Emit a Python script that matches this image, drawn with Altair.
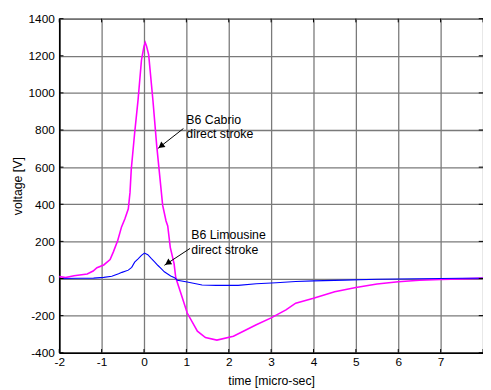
import altair as alt
import pandas as pd

# ---- data ----
cabrio_t = [-2.0, -1.85, -1.65, -1.34, -1.2, -1.11, -0.95, -0.80, -0.72, -0.62, -0.53, -0.45, -0.37, -0.33,
            -0.30, -0.22, -0.14, -0.06, 0.0, 0.03, 0.06, 0.11, 0.21, 0.30, 0.44, 0.52, 0.56, 0.62, 0.71, 0.75,
            0.87, 1.02, 1.26, 1.45, 1.72, 2.11, 2.65, 3.0, 3.35, 3.58, 4.0, 4.5, 5.0, 5.5, 6.0, 6.5, 7.0, 7.5, 8.0]
cabrio_v = [10, 5, 15, 24, 40, 58, 73, 102, 145, 205, 278, 322, 376, 464,
            590, 785, 962, 1176, 1251, 1271, 1252, 1206, 962, 716, 395, 310, 283, 168, 80, 4,
            -80, -186, -284, -318, -332, -311, -249, -212, -169, -133, -106, -71, -48, -30, -18, -9, -5, -2, 2]

limo_t = [-2.0, -1.5, -1.19, -0.95, -0.76, -0.6, -0.52, -0.37, -0.29, -0.22, -0.14, -0.06, 0.01, 0.09, 0.17,
          0.25, 0.33, 0.40, 0.48, 0.63, 0.71, 0.79, 1.02, 1.37, 1.7, 2.22, 2.65, 3.12, 3.58, 4.0, 4.74, 5.5,
          6.5, 7.5, 8.0]
limo_v = [0, 1, 2, 6, 12, 25, 33, 45, 60, 88, 106, 125, 137, 128, 108,
          90, 70, 54, 36, 14, 6, -9, -19, -35, -37, -37, -28, -23, -16, -13, -9, -4,
          -1, 1, 1]

x_ticks = [-2, -1, 0, 1, 2, 3, 4, 5, 6, 7, 8]
y_ticks = [-400, -200, 0, 200, 400, 600, 800, 1000, 1200, 1400]

# annotations (data coordinates)
label_text = ["B6 Cabrio", "direct stroke", "B6 Limousine", "direct stroke"]
label_x = [1.0, 1.0, 1.116, 1.116]
label_y = [856, 776, 233, 153]

arrow_id = ["cabrio", "limo"]
arrow_x1 = [0.93, 1.086]
arrow_y1 = [808, 162]
arrow_x2 = [0.326, 0.481]
arrow_y2 = [700, 71]
head_x = [0.40, 0.56]
head_y = [713, 83]
head_angle = [232.4, 236.8]

FONT = "Liberation Sans"

xs = alt.Scale(domain=[-2, 8], nice=False, zero=False)
ys = alt.Scale(domain=[-400, 1400], nice=False, zero=False)

cab = pd.DataFrame({"t": cabrio_t, "v": cabrio_v})
lim = pd.DataFrame({"t": limo_t, "v": limo_v})
labels = pd.DataFrame({"x": label_x, "y": label_y, "text": label_text})
arrows = pd.DataFrame({"id": arrow_id, "x1": arrow_x1, "y1": arrow_y1, "x2": arrow_x2, "y2": arrow_y2})
heads = pd.DataFrame({"x": head_x, "y": head_y, "angle": head_angle})

x_axis = alt.Axis(
    values=x_ticks, title="time [micro-sec]", grid=True,
    labelExpr="datum.value == 8 ? '' : '' + datum.value",
    labelOverlap=False, labelFlush=False,
    titleY=28, titleBaseline="middle", titleFontWeight="normal",
)
y_axis = alt.Axis(
    values=y_ticks, title="voltage [V]", grid=True,
    labelExpr="'' + datum.value", labelOverlap=False, labelFlush=False,
    titleX=-42.5, titleY=169.5, titleAngle=270, titleAlign="center", titleBaseline="middle",
    titleFontWeight="normal",
)


def X(f):
    return alt.X(f, scale=xs, axis=x_axis)


def Y(f):
    return alt.Y(f, scale=ys, axis=y_axis)


base_cab = alt.Chart(cab).mark_line(color="#FF00FF", strokeWidth=1.6).encode(x=X("t:Q"), y=Y("v:Q"))
base_lim = alt.Chart(lim).mark_line(color="#0000FF", strokeWidth=1.1).encode(x=X("t:Q"), y=Y("v:Q"))

txt = alt.Chart(labels).mark_text(align="left", baseline="middle", font=FONT, fontSize=12.5, color="black").encode(
    x=X("x:Q"), y=Y("y:Q"), text="text:N")

arr = alt.Chart(arrows).mark_rule(color="black", strokeWidth=1).encode(
    x=X("x1:Q"), y=Y("y1:Q"), x2="x2:Q", y2="y2:Q")

hd = alt.Chart(heads).mark_point(shape="triangle-up", filled=True, color="black", size=50, opacity=1).encode(
    x=X("x:Q"), y=Y("y:Q"), angle=alt.Angle("angle:Q", scale=None))

# inward tick marks (MATLAB style)
tb = pd.DataFrame({"t": x_ticks, "lo": [-400] * len(x_ticks), "lo2": [-380] * len(x_ticks),
                   "hi": [1400] * len(x_ticks), "hi2": [1380] * len(x_ticks)})
bt = alt.Chart(tb).mark_rule(color="black", strokeWidth=1).encode(x=X("t:Q"), y=Y("lo:Q"), y2="lo2:Q")
tt = alt.Chart(tb).mark_rule(color="black", strokeWidth=1).encode(x=X("t:Q"), y=Y("hi:Q"), y2="hi2:Q")
yb = pd.DataFrame({"v": y_ticks, "l": [-2] * len(y_ticks), "l2": [-1.9] * len(y_ticks),
                   "r": [8] * len(y_ticks), "r2": [7.9] * len(y_ticks)})
lt = alt.Chart(yb).mark_rule(color="black", strokeWidth=1).encode(y=Y("v:Q"), x=X("l:Q"), x2="l2:Q")
rt = alt.Chart(yb).mark_rule(color="black", strokeWidth=1).encode(y=Y("v:Q"), x=X("r:Q"), x2="r2:Q")

chart = alt.layer(base_cab, base_lim, bt, tt, lt, rt, arr, hd, txt).properties(
    width=430, height=339,
    autosize=alt.AutoSizeParams(type="none"),
    padding={"left": 52, "top": 8, "right": 0, "bottom": 35},
).configure_view(stroke="black", strokeWidth=1).configure_axis(
    gridColor="#7a7a7a", gridWidth=1.3, gridOpacity=1,
    domainColor="black", domainWidth=1.6,
    tickSize=0, labelPadding=5,
    labelFont=FONT, labelFontSize=12, labelColor="black",
    titleFont=FONT, titleFontSize=12.5, titleColor="black",
).configure_axisX(labelPadding=4)

chart.save("out.html", embed_options={"renderer": "svg", "actions": False})
